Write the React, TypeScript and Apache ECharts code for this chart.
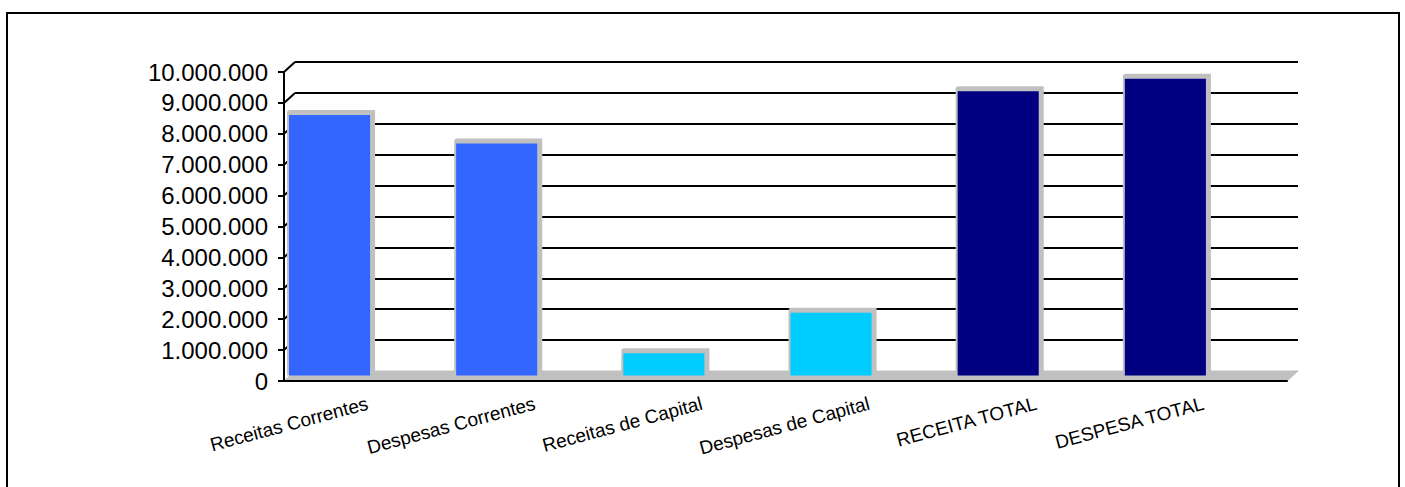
import React, { useEffect, useRef } from 'react';
import * as echarts from 'echarts';

const categories = [
  'Receitas Correntes',
  'Despesas Correntes',
  'Receitas de Capital',
  'Despesas de Capital',
  'RECEITA TOTAL',
  'DESPESA TOTAL',
];
const values = [8430000, 7510000, 720000, 2030000, 9200000, 9600000];
const barColors = ['#3366FF', '#3366FF', '#00CCFF', '#00CCFF', '#000080', '#000080'];
const yTicks = [0, 1000000, 2000000, 3000000, 4000000, 5000000, 6000000, 7000000, 8000000, 9000000, 10000000];

const DEPTH_X = 11;
const DEPTH_Y = 10;
const FONT = '"Liberation Sans", Arial, sans-serif';

function fmt(v: number): string {
  return String(v).replace(/\B(?=(\d{3})+(?!\d))/g, '.');
}

export default function App() {
  const ref = useRef<HTMLDivElement>(null);
  useEffect(() => {
    const chart = echarts.init(ref.current!, null, { renderer: 'svg' });
    chart.setOption({
      animation: false,
      backgroundColor: '#ffffff',
      textStyle: { fontFamily: FONT },
      graphic: [
        {
          type: 'rect',
          silent: true,
          z: 100,
          shape: { x: 7, y: 13, width: 1392, height: 490 },
          style: { fill: 'none', stroke: '#000', lineWidth: 2 },
        },
      ],
      grid: [
        { left: 284, right: 118, top: 72, bottom: 106 },
        { left: 284 + DEPTH_X, right: 118 - DEPTH_X, top: 72 - DEPTH_Y, bottom: 106 + DEPTH_Y },
      ],
      xAxis: [
        {
          type: 'category',
          gridIndex: 0,
          data: categories,
          z: 5,
          axisLine: { lineStyle: { color: '#000', width: 2 } },
          axisTick: { length: 5, lineStyle: { color: '#000', width: 2 } },
          axisLabel: {
            rotate: 15,
            interval: 0,
            fontSize: 19,
            color: '#000',
            fontFamily: FONT,
            margin: 22,
          },
        },
        { type: 'category', gridIndex: 1, data: categories, show: false },
      ],
      yAxis: [
        {
          type: 'value',
          gridIndex: 0,
          min: 0,
          max: 10000000,
          interval: 1000000,
          z: 5,
          axisLine: { show: true, lineStyle: { color: '#000', width: 2 } },
          axisTick: { show: true, length: 6, lineStyle: { color: '#000', width: 2 } },
          axisLabel: { formatter: fmt, fontSize: 24, color: '#000', fontFamily: FONT, margin: 16 },
          splitLine: { show: false },
        },
        {
          type: 'value',
          gridIndex: 1,
          min: 0,
          max: 10000000,
          interval: 1000000,
          axisLine: { show: false },
          axisTick: { show: false },
          axisLabel: { show: false },
          splitLine: { show: true, showMinLine: false, lineStyle: { color: '#000', width: 2 } },
        },
      ],
      series: [
        {
          type: 'custom',
          name: 'walls',
          xAxisIndex: 0,
          yAxisIndex: 0,
          clip: false,
          silent: true,
          z: 2,
          data: [[0, 0]],
          renderItem: (params: any, api: any) => {
            const cs = params.coordSys;
            const yb = cs.y + cs.height;
            const children: any[] = [];
            yTicks.forEach((t) => {
              if (t === 0) return;
              const p = api.coord([0, t]);
              children.push({
                type: 'line',
                shape: { x1: cs.x, y1: p[1], x2: cs.x + DEPTH_X, y2: p[1] - DEPTH_Y },
                style: { stroke: '#000', lineWidth: 2 },
              });
            });
            children.push({
              type: 'polygon',
              shape: {
                points: [
                  [cs.x, yb],
                  [cs.x + cs.width, yb],
                  [cs.x + cs.width + DEPTH_X, yb - DEPTH_Y],
                  [cs.x + DEPTH_X, yb - DEPTH_Y],
                ],
              },
              style: { fill: '#c0c0c0', stroke: '#c0c0c0', lineWidth: 1 },
            });
            return { type: 'group', children };
          },
        },
        {
          type: 'custom',
          name: 'bars',
          xAxisIndex: 0,
          yAxisIndex: 0,
          clip: false,
          z: 3,
          encode: { x: 0, y: 1 },
          data: values.map((v, i) => [i, v]),
          renderItem: (params: any, api: any) => {
            const i = api.value(0);
            const v = api.value(1);
            const p = api.coord([i, v]);
            const p0 = api.coord([i, 0]);
            const bw = api.size([1, 0])[0];
            const left = p[0] - bw / 2 + 5;
            const w = bw * 0.485;
            const top = p[1] - 5.5;
            const bottom = p0[1] - 5.5;
            return {
              type: 'group',
              children: [
                {
                  type: 'rect',
                  shape: { x: left - 2, y: top - 5, width: w + 7, height: bottom - top + 5, r: [3, 0, 0, 0] },
                  style: { fill: '#c0c0c0' },
                },
                {
                  type: 'rect',
                  shape: { x: left, y: top, width: w, height: bottom - top },
                  style: { fill: barColors[i] },
                },
              ],
            };
          },
        },
      ],
    });
    return () => chart.dispose();
  }, []);
  return (
    <div
      ref={ref}
      style={{ position: 'absolute', left: 0, top: 0, width: 1405, height: 487 }}
    />
  );
}
